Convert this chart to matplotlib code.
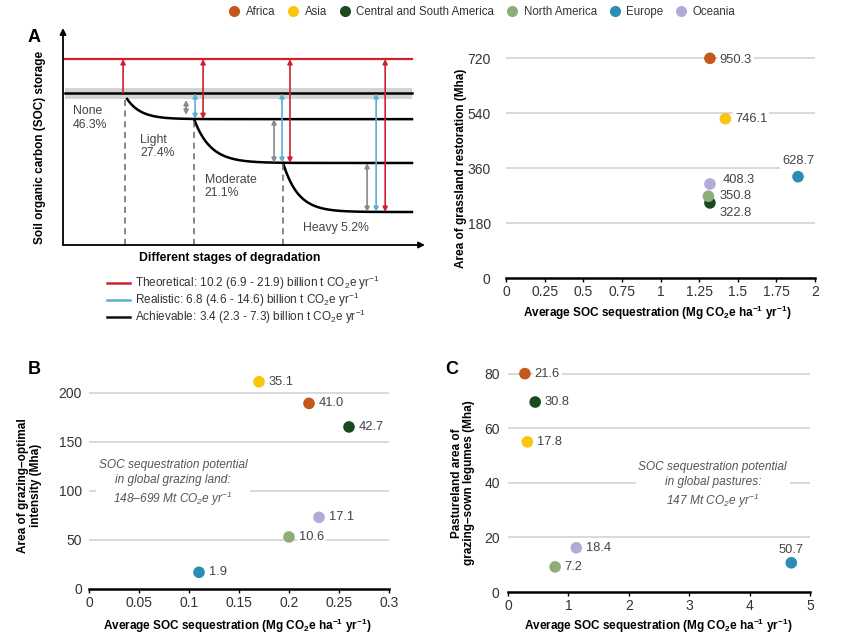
import numpy as np
import matplotlib
matplotlib.use("Agg")
import matplotlib.pyplot as plt
from matplotlib.lines import Line2D
from matplotlib.ticker import FuncFormatter

plt.rcParams["font.family"] = ["Liberation Sans Narrow", "Liberation Sans", "DejaVu Sans"]
plt.rcParams["mathtext.fontset"] = "custom"
plt.rcParams["mathtext.default"] = "regular"
plt.rcParams["text.color"] = "#333333"

# regions shared by the three scatter panels
regions = ["Africa", "Asia", "Central and South America", "North America", "Europe", "Oceania"]
region_colors = ["#c4571c", "#fbc50d", "#1c4a1f", "#8eae79", "#2b8db3", "#b2abd8"]

# grassland restoration (top right)
rest_soc = [1.32, 1.42, 1.32, 1.31, 1.89, 1.32]
rest_area = [720, 522, 246, 268, 332, 308]
rest_labels = ["950.3", "746.1", "322.8", "350.8", "628.7", "408.3"]

# B: grazing-optimal intensity
grazing_soc = [0.22, 0.17, 0.26, 0.20, 0.11, 0.23]
grazing_area = [189, 211, 165, 53, 17, 73]
grazing_labels = ["41.0", "35.1", "42.7", "10.6", "1.9", "17.1"]

# C: grazing-sown legumes
legume_soc = [0.28, 0.32, 0.45, 0.78, 4.69, 1.13]
legume_area = [80, 55, 69.6, 9.2, 10.7, 16.2]
legume_labels = ["21.6", "17.8", "30.8", "7.2", "50.7", "18.4"]

# A: schematic of degradation stages (arbitrary units)
stage_names = ["None", "Light", "Moderate", "Heavy"]
stage_share = ["46.3%", "27.4%", "21.1%", "5.2%"]
soc_levels = [7.0, 5.8, 3.78, 1.52]
theoretical_level = 8.57
stage_starts = [1.72, 3.62, 6.08]
line_end = 9.64
legend_a = [
    ("#d0202e", r"Theoretical: 10.2 (6.9 - 21.9) billion t CO$_2$e yr$^{-1}$"),
    ("#5aaed0", r"Realistic: 6.8 (4.6 - 14.6) billion t CO$_2$e yr$^{-1}$"),
    ("#111111", r"Achievable: 3.4 (2.3 - 7.3) billion t CO$_2$e yr$^{-1}$"),
]

W, H = 865, 640
fig = plt.figure(figsize=(W / 100, H / 100), dpi=100)


def px_axes(left, top, right, bottom):
    return fig.add_axes([left / W, 1 - bottom / H, (right - left) / W, (bottom - top) / H])


# ---------------- panel A ----------------
ax = px_axes(63, 28, 425, 245)
ax.set_xlim(0, 10)
ax.set_ylim(0, 10)
for s in ax.spines.values():
    s.set_visible(False)
ax.set_xticks([])
ax.set_yticks([])

arrow_kw = dict(lw=1.3, color="black", shrinkA=0, shrinkB=0, mutation_scale=9)
ax.annotate("", xy=(0, 10), xytext=(0, 0), arrowprops=dict(arrowstyle="-|>", **arrow_kw))
ax.annotate("", xy=(10, 0), xytext=(0, 0), arrowprops=dict(arrowstyle="-|>", **arrow_kw))

ax.fill_between([0.05, line_end], soc_levels[0] - 0.27, soc_levels[0] + 0.23, color="#d4d4d4", lw=0)
ax.plot([0.05, line_end], [theoretical_level] * 2, color="#d0202e", lw=1.6)
ax.plot([0.05, line_end], [soc_levels[0]] * 2, color="black", lw=1.8)

decay = [2.6, 2.2, 2.4]
for i, u0 in enumerate(stage_starts):
    v0 = soc_levels[i] - (0.27 if i == 0 else 0)
    u = np.linspace(u0 + (0.05 if i == 0 else 0), line_end, 300)
    v = soc_levels[i + 1] + (v0 - soc_levels[i + 1]) * np.exp(-decay[i] * (u - u[0]))
    ax.plot(u, v, color="black", lw=1.8)
    ax.plot([u0, u0], [0, v0], color="#666666", lw=1.1, ls=(0, (4, 3)))


def dbl(x, y0, y1, color, style="<|-|>"):
    ax.annotate("", xy=(x, y1), xytext=(x, y0),
                arrowprops=dict(arrowstyle=style, color=color, lw=1.2,
                                shrinkA=0, shrinkB=0, mutation_scale=7))


red_x = [1.66, 3.87, 6.27, 8.9]
blue_x = [3.65, 6.05, 8.65]
gray_x = [3.4, 5.83, 8.4]
dbl(red_x[0], soc_levels[0], theoretical_level, "#d0202e", "-|>")
for x, lv in zip(red_x[1:], soc_levels[1:]):
    dbl(x, lv, theoretical_level, "#d0202e")
for x, lv in zip(blue_x, soc_levels[1:]):
    dbl(x, lv, soc_levels[0], "#5aaed0")
dbl(gray_x[0], 6.0, 6.68, "#888888")
for x, a, b in zip(gray_x[1:], soc_levels[1:3], soc_levels[2:4]):
    dbl(x, b, a, "#888888")

lab_kw = dict(fontsize=8.8, color="#444444", va="center", ha="left", linespacing=1.15)
ax.text(0.28, 5.85, f"{stage_names[0]}\n{stage_share[0]}", **lab_kw)
ax.text(2.13, 4.53, f"{stage_names[1]}\n{stage_share[1]}", **lab_kw)
ax.text(3.92, 2.69, f"{stage_names[2]}\n{stage_share[2]}", **lab_kw)
ax.text(6.63, 0.78, f"{stage_names[3]} {stage_share[3]}", **lab_kw)

ax.set_ylabel("Soil organic carbon (SOC) storage", fontsize=8.5, fontweight="bold", color="black")
ax.yaxis.set_label_coords(-0.047, 0.45)
ax.set_xlabel("Different stages of degradation", fontsize=8.8, fontweight="bold", color="black")
ax.xaxis.set_label_coords(0.46, -0.03)
fig.text(28 / W, 1 - 37 / H, "A", fontsize=13, fontweight="bold", color="black", va="center")

handles = [Line2D([], [], color=c, lw=1.8) for c, _ in legend_a]
fig.legend(handles, [t for _, t in legend_a], loc="upper left",
           bbox_to_anchor=(102 / W, 1 - 269 / H), frameon=False, fontsize=8.5,
           handlelength=2.0, handletextpad=0.4, labelspacing=-0.1, borderaxespad=0)

# ---------------- scatter panels ----------------
xlab = r"Average SOC sequestration (Mg CO$_2$e ha$^{-1}$ yr$^{-1}$)"


def scatter_panel(ax, xs, ys, labels, offsets, xticks, yticks, ylim, ylabel, ypad):
    ax.set_xlim(xticks[0], xticks[-1])
    ax.set_ylim(*ylim)
    ax.set_xticks(xticks)
    ax.set_yticks(yticks)
    ax.xaxis.set_major_formatter(FuncFormatter(lambda v, p: f"{v:g}"))
    for s in ["top", "right", "left"]:
        ax.spines[s].set_visible(False)
    ax.spines["bottom"].set_linewidth(1.8)
    ax.tick_params(axis="x", length=3, width=1, labelsize=10, labelcolor="#333333", pad=2)
    ax.tick_params(axis="y", length=0, labelsize=10, labelcolor="#333333", pad=ypad)
    for t in yticks[1:]:
        ax.axhline(t, color="#cfcfcf", lw=1.1, zorder=0)
    ax.scatter(xs, ys, s=70, c=region_colors, zorder=3, linewidths=0)
    for x, y, lab, (dx, dy, ha) in zip(xs, ys, labels, offsets):
        ax.annotate(lab, (x, y), xytext=(dx, dy), textcoords="offset points",
                    ha=ha, va="center", fontsize=9.3, color="#444444", zorder=2,
                    bbox=dict(fc="white", ec="none", pad=1.5))
    ax.set_ylabel(ylabel, fontsize=8.5, fontweight="bold", color="black", linespacing=1.05)
    ax.set_xlabel(xlab, fontsize=8.5, fontweight="bold", color="black")


R = (7, 0, "left")
ax1 = px_axes(506, 40, 815, 278)
scatter_panel(ax1, rest_soc, rest_area, rest_labels,
              [(7, -1.5, "left"), R, (7, -7, "left"), (8, 0, "left"), (0, 11.5, "center"), (9, 3, "left")],
              [0, 0.25, 0.5, 0.75, 1, 1.25, 1.5, 1.75, 2], [0, 180, 360, 540, 720], (0, 780),
              "Area of grassland restoration (Mha)", 11)
ax1.yaxis.set_label_coords(-0.126, 0.46)
ax1.xaxis.set_label_coords(0.49, -0.11)

ax2 = px_axes(89, 369, 389, 589)
scatter_panel(ax2, grazing_soc, grazing_area, grazing_labels, [R] * 6,
              [0, 0.05, 0.1, 0.15, 0.2, 0.25, 0.3], [0, 50, 100, 150, 200], (0, 224),
              "Area of grazing\u2013optimal\nintensity (Mha)", 5)
ax2.yaxis.set_label_coords(-0.157, 0.47)
ax2.xaxis.set_label_coords(0.495, -0.125)
ax2.text(0.084, 107, "SOC sequestration potential\nin global grazing land:\n"
         "148\u2013699 Mt CO$_2$e yr$^{-1}$",
         style="italic", fontsize=8.6, color="#555555", ha="center", va="center",
         linespacing=1.3, bbox=dict(fc="white", ec="none", pad=2), zorder=2)
fig.text(28 / W, 1 - 370 / H, "B", fontsize=13, fontweight="bold", color="black", va="center")

ax3 = px_axes(508, 360, 810, 592)
scatter_panel(ax3, legume_soc, legume_area, legume_labels,
              [R, R, R, R, (0, 9.5, "center"), R],
              [0, 1, 2, 3, 4, 5], [0, 20, 40, 60, 80], (0, 85),
              "Pastureland area of\ngrazing\u2013sown legumes (Mha)", 6)
ax3.yaxis.set_label_coords(-0.109, 0.47)
ax3.xaxis.set_label_coords(0.497, -0.108)
ax3.text(3.39, 39, "SOC sequestration potential\nin global pastures:\n"
         r"147 Mt CO$_2$e yr$^{-1}$",
         style="italic", fontsize=8.6, color="#555555", ha="center", va="center",
         linespacing=1.3, bbox=dict(fc="white", ec="none", pad=2), zorder=2)
fig.text(445 / W, 1 - 370 / H, "C", fontsize=13, fontweight="bold", color="black", va="center")

# ---------------- top legend ----------------
reg_handles = [Line2D([], [], marker="o", ls="", ms=8, mfc=c, mec="none") for c in region_colors]
fig.legend(reg_handles, regions, loc="center", bbox_to_anchor=(0.554, 1 - 12 / H), ncol=6,
           frameon=False, fontsize=8.3, handletextpad=0.0, columnspacing=0.55,
           borderaxespad=0)

fig.savefig("out.png", dpi=100)
